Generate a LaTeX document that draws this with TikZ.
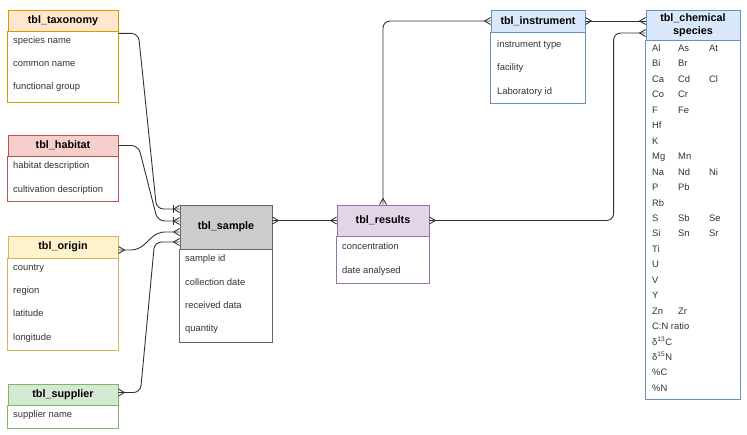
\documentclass[tikz,border=0pt]{standalone}
\usepackage{fontspec}
\setmainfont{Liberation Sans}
\usetikzlibrary{calc,arrows.meta}

\definecolor{orfill}{HTML}{FFE6CC}\definecolor{orline}{HTML}{D79B00}
\definecolor{redfill}{HTML}{F8CECC}\definecolor{redline}{HTML}{B85450}
\definecolor{yelfill}{HTML}{FFF2CC}\definecolor{yelline}{HTML}{D6B656}
\definecolor{grnfill}{HTML}{D5E8D4}\definecolor{grnline}{HTML}{82B366}
\definecolor{gryfill}{HTML}{CCCCCC}\definecolor{gryline}{HTML}{666666}
\definecolor{purfill}{HTML}{E1D5E7}\definecolor{purline}{HTML}{9673A6}
\definecolor{blufill}{HTML}{DAE8FC}\definecolor{bluline}{HTML}{6C8EBF}
\definecolor{rowtext}{HTML}{333333}
\definecolor{linegray}{HTML}{333333}

% crow's foot for the "many" ends
\pgfdeclarearrow{
  name = Crow,
  defaults = {length = 6pt, width = 7pt},
  parameters = {\the\pgfarrowlength,\the\pgfarrowwidth},
  setup code = {
    \pgfarrowssettipend{0pt}
    \pgfarrowssetlineend{0pt}
    \pgfarrowssetbackend{-\pgfarrowlength}
    \pgfarrowshullpoint{0pt}{.5\pgfarrowwidth}
    \pgfarrowshullpoint{0pt}{-.5\pgfarrowwidth}
    \pgfarrowshullpoint{-\pgfarrowlength}{0pt}
    \pgfarrowssavethe\pgfarrowlength
    \pgfarrowssavethe\pgfarrowwidth
  },
  drawing code = {
    \pgfpathmoveto{\pgfqpoint{0pt}{.5\pgfarrowwidth}}
    \pgfpathlineto{\pgfqpoint{-\pgfarrowlength}{0pt}}
    \pgfpathlineto{\pgfqpoint{0pt}{-.5\pgfarrowwidth}}
    \pgfusepathqstroke
  }
}

\tikzset{
  tblhead/.style={draw, line width=0.8pt, inner sep=0pt, align=center,
    font=\fontsize{10.8}{12.5}\selectfont\bfseries},
  tblrow/.style={anchor=west, inner sep=0pt, text=rowtext, text height=7pt, text depth=2pt,
    font=\fontsize{9.4}{11}\selectfont},
  tblbody/.style={draw=#1, fill=white, line width=0.8pt},
  conn/.style={draw=linegray, line width=0.9pt, rounded corners=7pt},
}

\begin{document}
\begin{tikzpicture}[x=1pt,y=-1pt]
\useasboundingbox (0,0) rectangle (747,434);

% tables on the left
\node [tblhead, fill=orfill, draw=orline, minimum width=110, minimum height=21] (taxh) at (63,20.5) {tbl\_taxonomy};
\draw [tblbody=orline] (taxh.south west) rectangle (118,102);
\foreach \txt/\y [count=\i] in {species name/41, common name/64, functional group/87}
  \node [tblrow] (tax\i) at (13,\y) {\txt};

\node [tblhead, fill=redfill, draw=redline, minimum width=110, minimum height=21] (habh) at (63,145.5) {tbl\_habitat};
\draw [tblbody=redline] (habh.south west) rectangle (118,201);
\foreach \txt/\y [count=\i] in {habitat description/166, cultivation description/190}
  \node [tblrow] (hab\i) at (13,\y) {\txt};

\node [tblhead, fill=yelfill, draw=yelline, minimum width=110, minimum height=22] (origh) at (63,247) {tbl\_origin};
\draw [tblbody=yelline] (origh.south west) rectangle (118,350);
\foreach \txt/\y [count=\i] in {country/268, region/291, latitude/314, longitude/338}
  \node [tblrow] (orig\i) at (13,\y) {\txt};

\node [tblhead, fill=grnfill, draw=grnline, minimum width=110, minimum height=21] (suph) at (63,394.5) {tbl\_supplier};
\draw [tblbody=grnline] (suph.south west) rectangle (118,428);
\node [tblrow] (sup1) at (13,415) {supplier name};

% sample and results
\node [tblhead, fill=gryfill, draw=gryline, minimum width=92, minimum height=44] (samh) at (226,227) {tbl\_sample};
\draw [tblbody=gryline] (samh.south west) rectangle (272,342);
\foreach \txt/\y [count=\i] in {sample id/259, collection date/283, received data/306, quantity/329}
  \node [tblrow] (sam\i) at (185,\y) {\txt};

\node [tblhead, fill=purfill, draw=purline, minimum width=92, minimum height=31] (resh) at (383,220.5) {tbl\_results};
\draw [tblbody=purline] (resh.south west) rectangle (429,283);
\foreach \txt/\y [count=\i] in {concentration/247, date analysed/271}
  \node [tblrow] (res\i) at (342,\y) {\txt};

% instrument
\node [tblhead, fill=blufill, draw=bluline, minimum width=94, minimum height=22] (insth) at (538,21) {tbl\_instrument};
\draw [tblbody=bluline] (insth.south west) rectangle (585,103);
\foreach \txt/\y [count=\i] in {instrument type/45, facility/68, Laboratory id/92}
  \node [tblrow] (inst\i) at (497,\y) {\txt};

% chemical species
\node [tblhead, fill=blufill, draw=bluline, minimum width=94, minimum height=30] (chemh) at (693,25) {tbl\_chemical\\species};
\draw [tblbody=bluline] (chemh.south west) rectangle (740,399);
\foreach \ea/\eb/\ec [count=\i from 0] in {Al/As/At, Bi/Br/, Ca/Cd/Cl, Co/Cr/, F/Fe/, Hf//, K//,
    Mg/Mn/, Na/Nd/Ni, P/Pb/, Rb//, S/Sb/Se, Si/Sn/Sr, Ti//, U//, V//, Y//, Zn/Zr/,
    C:N ratio//, δ\textsuperscript{13}C//, δ\textsuperscript{15}N//, \%C//, \%N//}
{
  \node [tblrow] (chem\i a) at (652,49+15.45*\i) {\ea};
  \node [tblrow] (chem\i b) at (678,49+15.45*\i) {\eb};
  \node [tblrow] (chem\i c) at (709,49+15.45*\i) {\ec};
}

% relations
\draw [conn, -{Bar[width=8pt] Crow}] ($(taxh.south east)+(0,2)$) -- ++(20,0) -- ($(samh.west)+(-23,-18)$) -- ($(samh.west)+(0,-18)$);
\draw [conn, -{Bar[width=8pt] Crow}] (habh.east) -- ++(20,0) -- ($(samh.west)+(-22,-6)$) -- ($(samh.west)+(0,-6)$);
\draw [conn, Crow-Crow] ($(origh.east)+(0,3)$) -- ++(20,0) -- ($(samh.west)+(-22,5)$) -- ($(samh.west)+(0,5)$);
\draw [conn, Crow-Crow] ($(suph.east)+(0,-2)$) -- ++(22,0) -- ($(samh.west)+(-25,15)$) -- ($(samh.west)+(0,15)$);
\draw [conn, Crow-Crow] (resh.west -| samh.east) -- (resh.west);
\draw [conn, Crow-Crow] (resh.north) |- (insth.west);
\draw [conn, Crow-Crow] (insth.east) -- (insth.east -| chemh.west);
\draw [conn, Crow-Crow] (resh.east) -| ($(chemh.west)+(-32,8)$) -- ($(chemh.west)+(0,8)$);
\end{tikzpicture}
\end{document}
